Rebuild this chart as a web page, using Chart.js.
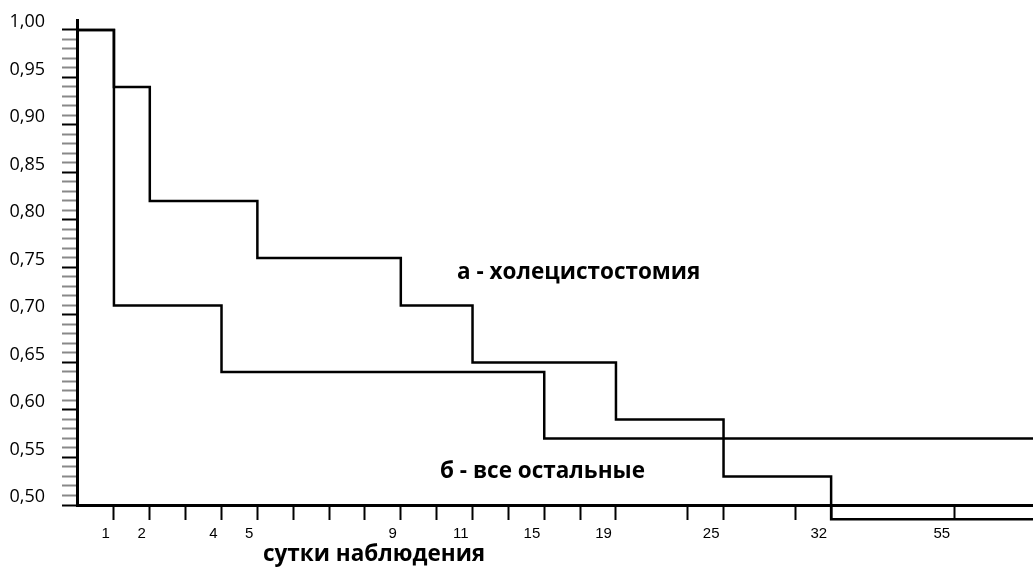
<!DOCTYPE html>
<html>
<head>
<meta charset="utf-8">
<script src="https://cdn.jsdelivr.net/npm/chart.js@4/dist/chart.umd.min.js"></script>
<style>
  html, body { margin: 0; padding: 0; background: #fff; }
  #wrap { width: 1033px; height: 576px; position: relative; }
</style>
</head>
<body>
<div id="wrap"><canvas id="kmChart"></canvas></div>
<script>
/* survival curves, x in tick slots (one slot per tick mark) */

// x axis: slot of each tick mark and the day written under it
const dayTicks  = [0, 1, 2, 3, 4, 5, 6, 7, 8, 9, 10, 11, 12, 13, 14, 16, 17, 19, 20, 23.43];
const dayLabels = ['1', '2', '', '4', '5', '', '', '', '9', '', '11', '', '15', '', '19', '', '25', '', '32', '55'];

// y axis labelled values
const yLabels = [0.50, 0.55, 0.60, 0.65, 0.70, 0.75, 0.80, 0.85, 0.90, 0.95, 1.00];

// а - холецистостомия
const cholX = [-1.03, 0, 1, 4, 8, 10, 14, 17, 20, 25.63];
const cholY = [1.00, 0.94, 0.82, 0.76, 0.71, 0.65, 0.59, 0.53, 0.485, 0.485];

// б - все остальные
const otherX = [-1.03, 0, 3, 12, 25.63];
const otherY = [1.00, 0.71, 0.64, 0.57, 0.57];

const toPoints = (xs, ys) => xs.map((x, i) => ({ x: x, y: ys[i] }));

const isMajor = v => yLabels.some(m => Math.abs(m - v) < 1e-6);

// captions drawn on top of the plot
const captions = {
  id: 'captions',
  afterDraw(chart) {
    const c = chart.ctx;
    c.save();
    c.fillStyle = '#000';
    c.textBaseline = 'middle';
    c.textAlign = 'left';
    c.font = 'bold 22.5px "Open Sans"';
    c.fillText('а - холецистостомия', 457, 273);
    c.fillText('б - все остальные', 440, 472);
    c.fillText('сутки наблюдения', 263, 555);
    c.restore();
  }
};

const ctx = document.getElementById('kmChart');
const chart = new Chart(ctx, {
  type: 'line',
  data: {
    datasets: [{
      label: 'а - холецистостомия',
      data: toPoints(cholX, cholY),
      borderColor: '#000',
      borderWidth: 2.5,
      pointRadius: 0,
      stepped: true,
      fill: false,
      clip: false
    }, {
      label: 'б - все остальные',
      data: toPoints(otherX, otherY),
      borderColor: '#000',
      borderWidth: 2.5,
      pointRadius: 0,
      stepped: true,
      fill: false,
      clip: false
    }]
  },
  options: {
    responsive: true,
    maintainAspectRatio: false,
    animation: false,
    layout: { padding: { top: 20, right: 0, left: 0, bottom: 0 } },
    plugins: {
      legend: { display: false },
      tooltip: { enabled: false }
    },
    scales: {
      x: {
        type: 'linear',
        min: -1.03,
        max: 25.63,
        afterBuildTicks: scale => {
          scale.ticks = dayTicks.map(v => ({ value: v }));
        },
        afterFit: scale => { scale.height = 71; },
        ticks: {
          autoSkip: false,
          maxRotation: 0,
          align: 'end',
          labelOffset: -4,
          padding: 5,
          color: '#000',
          font: { family: '"Liberation Sans", Arial', size: 15 },
          callback: (v, i) => dayLabels[i]
        },
        grid: {
          drawOnChartArea: false,
          tickLength: 15,
          tickColor: '#000',
          tickWidth: 2
        },
        border: { color: '#000', width: 3 }
      },
      y: {
        type: 'linear',
        min: 0.50,
        max: 1.0105,
        afterBuildTicks: scale => {
          const t = [];
          for (let k = 50; k <= 100; k++) t.push({ value: k / 100 });
          scale.ticks = t;
        },
        afterFit: scale => {
          scale.width = 77;
          scale.paddingTop = 0;
          scale.paddingBottom = 0;
        },
        ticks: {
          autoSkip: false,
          padding: 17,
          labelOffset: -8,
          color: '#000',
          font: { family: '"Open Sans"', size: 18 },
          callback: v => isMajor(v) ? v.toFixed(2).replace('.', ',') : ''
        },
        grid: {
          drawOnChartArea: false,
          tickLength: 15,
          tickWidth: 2,
          tickColor: c => isMajor(c.tick.value) ? '#000' : '#888'
        },
        border: { color: '#000', width: 3 }
      }
    }
  },
  plugins: [captions]
});
</script>
</body>
</html>
